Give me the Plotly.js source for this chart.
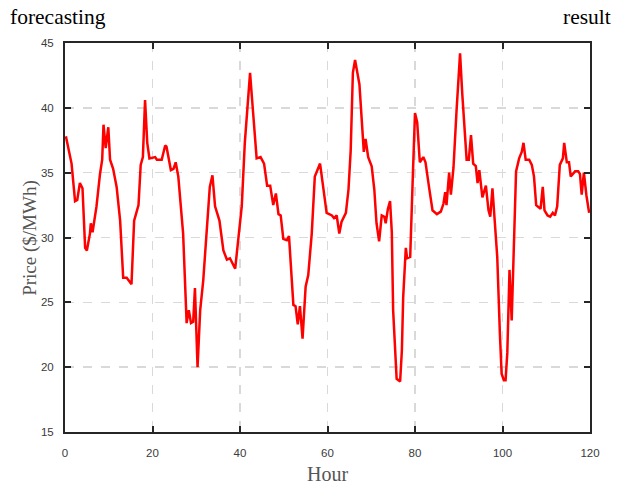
<!DOCTYPE html>
<html>
<head>
<meta charset="utf-8">
<script src="https://cdn.plot.ly/plotly-3.0.1.min.js"></script>
<style>html,body{margin:0;padding:0;background:#fff;}#chart{width:625px;height:487px;}</style>
</head>
<body>
<div id="chart"></div>
<script>
// Hour (x) and forecast price (y)
const hours = [0.2,1.5,2.3,2.8,3.4,4.0,4.6,5.0,5.7,5.9,6.3,7.2,8.0,8.5,8.8,9.3,9.9,10.3,11.0,11.8,12.6,13.3,14.1,14.5,15.2,15.8,16.8,17.3,17.8,18.3,18.8,19.3,
20.6,21.0,22.1,22.9,23.2,24.2,24.8,25.3,25.9,27.0,27.8,28.3,28.8,29.3,29.7,30.3,30.9,31.6,32.4,33.1,33.7,34.3,35.3,36.2,37.0,37.7,38.9,
40.0,40.4,41.1,42.3,43.0,43.8,44.7,45.5,46.2,46.9,47.6,48.2,48.8,49.3,49.9,50.7,51.2,52.2,52.7,53.2,53.7,54.3,55.0,55.6,56.4,57.1,58.3,
59.0,59.8,61.0,61.5,62.1,62.7,63.2,64.2,64.8,65.3,65.8,66.3,67.3,67.8,68.3,68.7,69.3,70.1,70.7,71.2,71.8,72.4,73.0,73.3,73.8,74.3,74.7,75.0,75.4,75.8,76.6,77.0,77.3,77.9,78.2,78.9,79.5,80.0,
80.5,81.1,81.9,82.4,83.2,84.0,85.0,85.9,86.5,86.9,87.2,87.8,88.2,88.8,89.5,90.3,90.8,91.4,91.8,92.3,92.8,93.3,93.9,94.3,94.7,95.4,96.2,96.8,97.2,97.7,98.3,98.8,99.4,99.8,
100.3,100.7,101.1,101.6,102.1,102.6,103.1,103.8,104.4,104.8,105.3,106.1,106.7,107.2,107.7,108.4,108.7,109.2,109.6,110.3,110.9,111.5,112.0,112.5,113.1,113.8,114.1,114.7,115.2,115.6,116.6,117.3,117.7,118.1,118.6,119.2,119.8];
const price = [37.8,35.7,32.8,32.9,34.2,33.8,29.2,29.0,30.3,31.1,30.4,32.4,34.9,36.0,38.7,36.9,38.5,36.0,35.3,33.9,31.3,26.9,26.9,26.7,26.4,31.3,32.5,35.6,36.2,40.6,37.3,36.1,
36.2,36.0,36.0,37.1,37.0,35.2,35.3,35.8,34.7,30.3,23.4,24.4,23.4,23.5,26.1,20.0,24.4,26.7,30.3,33.9,34.8,32.4,31.3,29.0,28.3,28.4,27.6,
31.3,32.4,37.3,42.7,39.6,36.1,36.2,35.7,34.0,34.0,32.5,33.4,31.8,31.7,29.9,29.8,30.1,24.8,24.7,23.3,24.7,22.2,26.2,27.1,30.3,34.7,35.7,
33.7,31.9,31.7,31.5,31.7,30.3,31.2,31.9,33.7,36.7,42.7,43.7,41.8,39.3,36.6,37.6,36.2,35.5,33.7,31.1,29.7,31.7,31.6,31.1,32.2,32.8,30.4,24.4,21.3,19.1,18.9,21.3,25.4,29.2,28.4,28.5,34.7,39.6,
38.9,35.8,36.2,35.8,33.9,32.1,31.8,32.0,32.6,33.5,32.5,35.0,33.3,35.4,39.8,44.2,41.1,37.8,36.0,36.0,37.9,35.7,35.5,34.2,35.2,33.1,34.0,32.1,31.6,33.8,31.1,28.5,22.6,19.5,
19.0,19.0,21.1,27.5,23.6,29.8,35.1,36.1,36.6,37.3,36.0,36.0,35.6,34.7,32.5,32.3,32.2,33.9,32.1,31.7,31.6,31.9,31.7,32.4,35.6,36.1,37.3,35.8,35.8,34.7,35.1,35.1,34.9,33.3,35.0,33.2,31.9];
const xTicks = [0,20,40,60,80,100,120];
const yTicks = [15,20,25,30,35,40,45];

const tickFont = {family:'"Liberation Sans Narrow", "Liberation Sans", Arial, sans-serif', size:11.5, color:'#3a3a3a'};
const serif = '"Liberation Serif", "Times New Roman", serif';

const axisCommon = {
  showline:true, linecolor:'#262626', linewidth:2, mirror:'ticks',
  ticks:'inside', ticklen:6, tickwidth:2, tickcolor:'#262626',
  showgrid:true, gridcolor:'#d9d9d9', gridwidth:1.5, griddash:'dash',
  zeroline:false, tickfont:tickFont, tickmode:'array'
};

const layout = {
  width:625, height:487,
  margin:{l:65, r:35, t:43, b:55},
  paper_bgcolor:'#fff', plot_bgcolor:'#fff',
  showlegend:false,
  xaxis:Object.assign({}, axisCommon, {
    range:[0,120], tickvals:xTicks, ticktext:xTicks.map(String), ticklabelstandoff:9
  }),
  yaxis:Object.assign({}, axisCommon, {
    range:[15,45], tickvals:yTicks, ticktext:yTicks.map(String), ticklabelstandoff:7
  }),
  annotations:[
    {text:'forecasting', xref:'paper', yref:'paper', x:-0.108, y:1.068, xanchor:'left', yanchor:'middle', showarrow:false, font:{family:serif, size:21.5, color:'#000'}},
    {text:'result', xref:'paper', yref:'paper', x:1.044, y:1.068, xanchor:'right', yanchor:'middle', showarrow:false, font:{family:serif, size:21.5, color:'#000'}},
    {text:'Hour', xref:'paper', yref:'paper', x:0.5, y:-0.108, xanchor:'center', yanchor:'middle', showarrow:false, font:{family:serif, size:20, color:'#555'}},
    {text:'Price ($/MWh)', xref:'paper', yref:'paper', x:-0.068, y:0.5, xanchor:'center', yanchor:'middle', textangle:-90, showarrow:false, font:{family:serif, size:19, color:'#555'}}
  ]
};

Plotly.newPlot('chart', [{
  x:hours, y:price, type:'scatter', mode:'lines',
  line:{color:'#ff0000', width:2.5}, hoverinfo:'skip'
}], layout, {displayModeBar:false, staticPlot:true});
</script>
</body>
</html>
